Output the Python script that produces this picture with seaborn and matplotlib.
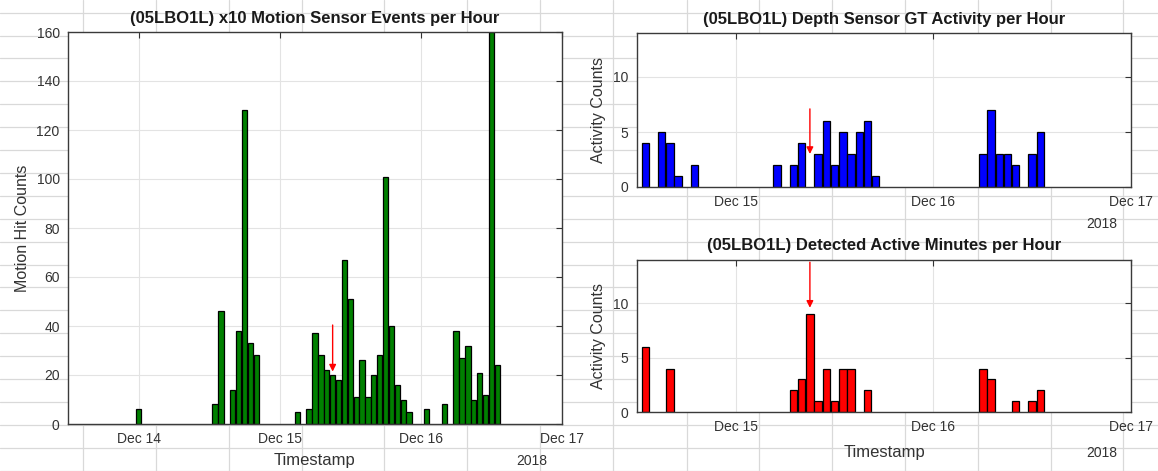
import matplotlib
matplotlib.use("Agg")
import matplotlib.pyplot as plt
import seaborn as sns
import numpy as np
import pandas as pd

# ---- data (hours counted from 2018-12-14 00:00) ----
motion_hours = [0, 13, 14, 16, 17, 18, 19, 20, 27, 29, 30, 31, 32, 33, 34, 35, 36, 37,
                38, 39, 40, 41, 42, 43, 44, 45, 46, 49, 52, 54, 55, 56, 57, 58, 59, 60, 61]
motion_counts = [6, 8, 46, 14, 38, 128, 33, 28, 5, 6, 37, 28, 22, 20, 18, 67, 51, 11,
                 26, 11, 20, 28, 101, 40, 16, 10, 5, 6, 8, 38, 27, 32, 10, 21, 12, 160, 24]

depth_hours = [13, 15, 16, 17, 19, 29, 31, 32, 34, 35, 36, 37, 38, 39, 40, 41,
               54, 55, 56, 57, 58, 60, 61]
depth_counts = [4, 5, 4, 1, 2, 2, 2, 4, 3, 6, 2, 5, 3, 5, 6, 1,
                3, 7, 3, 3, 2, 3, 5]

active_hours = [13, 16, 31, 32, 33, 34, 35, 36, 37, 38, 40, 54, 55, 58, 60, 61]
active_counts = [6, 4, 2, 3, 9, 1, 4, 1, 4, 4, 2, 4, 3, 1, 1, 2]

event_hour = 33  # marked event (red arrow)

left_ticks = [0, 24, 48, 72]
left_ticklabels = ["Dec 14", "Dec 15", "Dec 16", "Dec 17"]
right_ticks = [24, 48, 72]
right_ticklabels = ["Dec 15", "Dec 16", "Dec 17"]

titles = ["(05LBO1L) x10 Motion Sensor Events per Hour",
          "(05LBO1L) Depth Sensor GT Activity per Hour",
          "(05LBO1L) Detected Active Minutes per Hour"]

# ---- style ----
sns.set_style("white")
plt.rcParams["font.family"] = ["Liberation Sans", "DejaVu Sans"]

W, H = 1158, 471
fig = plt.figure(figsize=(W / 100, H / 100), dpi=100)

# spreadsheet-like background
bg = fig.add_axes([0, 0, 1, 1], zorder=-5)
bg.set_xlim(0, W)
bg.set_ylim(H, 0)
bg.axis("off")
for y in np.arange(12.7, H, 22.9):
    bg.axhline(y, color="#d9d9d9", lw=0.9)
for x in [83, 156, 229, 302, 384, 467, 540, 613, 687, 759, 832, 905, 978, 1051, 1123]:
    bg.axvline(x, color="#d9d9d9", lw=0.9)


def px_axes(l, t, r, b):
    return fig.add_axes([l / W, 1 - b / H, (r - l) / W, (b - t) / H])


axL = px_axes(68, 32, 562, 424)
axT = px_axes(637, 33, 1131, 187)
axB = px_axes(637, 260, 1131, 412)

tick_color = "#333333"


def style(ax, ticks, labels, xlim, ylim, yticks):
    ax.set_facecolor("white")
    ax.set_xlim(*xlim)
    ax.set_ylim(*ylim)
    ax.set_xticks(ticks)
    ax.set_xticklabels(labels)
    ax.set_yticks(yticks)
    ax.tick_params(direction="in", top=True, right=True, length=4, width=0.8,
                   color=tick_color, labelcolor=tick_color, labelsize=10, pad=6)
    for s in ax.spines.values():
        s.set_color("#3a3a3a")
        s.set_linewidth(1.0)
    ax.grid(True, color="#e3e3e3", lw=0.8)
    ax.set_axisbelow(True)
    ax.set_xlabel("")
    ax.set_ylabel("")


def bars(ax, hours, vals, color):
    sns.barplot(x=hours, y=vals, native_scale=True, orient="x", color=color,
                saturation=1, width=0.9, edgecolor="black", linewidth=0.9,
                errorbar=None, ax=ax)


bars(axL, motion_hours, motion_counts, "#008000")
bars(axT, depth_hours, depth_counts, "#0000ff")
bars(axB, active_hours, active_counts, "#ff0000")

style(axL, left_ticks, left_ticklabels, (-12, 72), (0, 160), list(range(0, 161, 20)))
style(axT, right_ticks, right_ticklabels, (12, 72), (0, 14), [0, 5, 10])
style(axB, right_ticks, right_ticklabels, (12, 72), (0, 14), [0, 5, 10])

title_kw = dict(fontsize=12, fontweight="bold", color="#1a1a1a")
axL.set_title(titles[0], pad=6.5, **title_kw)
axT.set_title(titles[1], pad=6.5, **title_kw)
axB.set_title(titles[2], pad=7, **title_kw)

lab_kw = dict(fontsize=11.5, color="#333333")
axL.set_ylabel("Motion Hit Counts", **lab_kw)
axL.yaxis.set_label_coords((30 - 68) / 494, 0.5)
axT.set_ylabel("Activity Counts", **lab_kw)
axT.yaxis.set_label_coords((606 - 637) / 494, 0.5)
axB.set_ylabel("Activity Counts", **lab_kw)
axB.yaxis.set_label_coords((606 - 637) / 494, 0.5)

axL.set_xlabel("Timestamp", fontsize=12, color="#333333")
axL.xaxis.set_label_coords(0.5, -(453 - 424) / 392)
axB.set_xlabel("Timestamp", fontsize=12, color="#333333")
axB.xaxis.set_label_coords(0.5, -(445 - 412) / 152)

yr_kw = dict(fontsize=10, color="#333333", ha="right", va="center")
axL.text(0.970, -(461 - 424) / 392, "2018", transform=axL.transAxes, **yr_kw)
axT.text(0.972, -(224 - 187) / 154, "2018", transform=axT.transAxes, **yr_kw)
axB.text(0.972, -(453 - 412) / 152, "2018", transform=axB.transAxes, **yr_kw)

arrow_kw = dict(arrowstyle="-|>", color="red", lw=1.0, mutation_scale=10,
                shrinkA=0, shrinkB=0)
axL.annotate("", xy=(event_hour, 21.4), xytext=(event_hour, 40.4), arrowprops=arrow_kw)
axT.annotate("", xy=(event_hour, 3.0), xytext=(event_hour, 7.1), arrowprops=arrow_kw)
axB.annotate("", xy=(event_hour, 9.6), xytext=(event_hour, 13.8), arrowprops=arrow_kw)

fig.savefig("out.png", dpi=100)
